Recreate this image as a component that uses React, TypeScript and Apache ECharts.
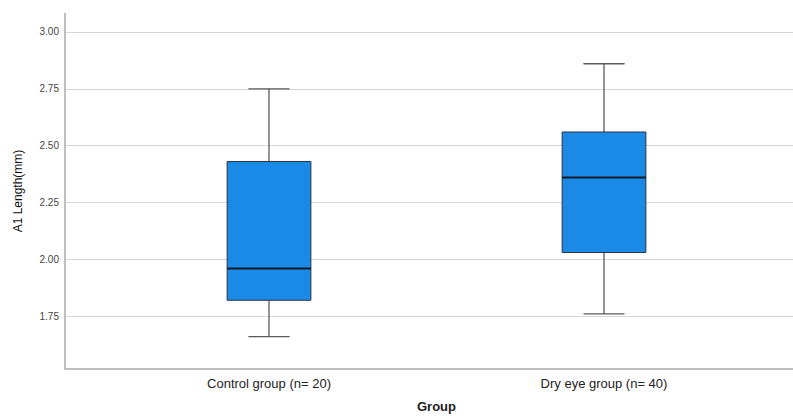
import React, { useEffect, useRef } from "react";
import * as echarts from "echarts";

const categories = ["Control group (n= 20)", "Dry eye group (n= 40)"];
const whiskerLow = [1.66, 1.76];
const q1 = [1.82, 2.03];
const median = [1.96, 2.36];
const q3 = [2.43, 2.56];
const whiskerHigh = [2.75, 2.86];
const yTicks = [1.75, 2.0, 2.25, 2.5, 2.75, 3.0];
const yMin = 1.52;
const yMax = 3.081;

export default function App() {
  const ref = useRef<HTMLDivElement>(null);
  useEffect(() => {
    if (!ref.current) return;
    const chart = echarts.init(ref.current, undefined, { renderer: "svg" });
    const data = categories.map((_, i) => [i, whiskerLow[i], q1[i], median[i], q3[i], whiskerHigh[i]]);
    const font = "'Liberation Sans', Arial, sans-serif";
    chart.setOption({
      animation: false,
      backgroundColor: "#ffffff",
      grid: [
        { left: 65, right: 0, top: 13.5, bottom: 47.5, containLabel: false, outerBoundsMode: "none" },
        { left: 101.5, right: 21.5, top: 13.5, bottom: 47.5, containLabel: false, outerBoundsMode: "none" },
      ],
      xAxis: [
        {
          gridIndex: 0,
          type: "value",
          min: 0,
          max: 1,
          axisLine: { show: true, lineStyle: { color: "#aaaaaa", width: 1.5 } },
          axisTick: { show: false },
          axisLabel: { show: false },
          splitLine: { show: false },
        },
        {
          gridIndex: 1,
          type: "category",
          data: categories,
          axisLine: { show: false },
          axisTick: { show: false },
          axisLabel: { color: "#222", fontSize: 13, fontFamily: font, margin: 8 },
          splitLine: { show: false },
          name: "Group",
          nameLocation: "middle",
          nameGap: 31,
          nameTextStyle: { color: "#222", fontSize: 13, fontWeight: "bold", fontFamily: font },
        },
      ],
      yAxis: [
        {
          gridIndex: 0,
          type: "value",
          min: yMin,
          max: yMax,
          name: "A1 Length(mm)",
          nameLocation: "middle",
          nameGap: 41,
          nameTextStyle: { color: "#111", fontSize: 12, fontFamily: font },
          axisLine: { show: true, lineStyle: { color: "#aaaaaa", width: 1.5 } },
          axisTick: { show: false, customValues: yTicks },
          axisLabel: {
            customValues: yTicks,
            color: "#444",
            fontSize: 10,
            fontFamily: font,
            margin: 6,
            formatter: (v: number) => v.toFixed(2),
          },
          splitLine: { show: true, lineStyle: { color: "#d6d6d6", width: 1.2 } },
        },
        {
          gridIndex: 1,
          type: "value",
          min: yMin,
          max: yMax,
          show: false,
          splitLine: { show: false },
        },
      ],
      series: [
        {
          type: "custom",
          xAxisIndex: 1,
          yAxisIndex: 1,
          data,
          encode: { x: 0, y: [1, 2, 3, 4, 5] },
          renderItem: (params: any, api: any) => {
            const idx = api.value(0);
            const pLo = api.coord([idx, api.value(1)]);
            const pQ1 = api.coord([idx, api.value(2)]);
            const pMed = api.coord([idx, api.value(3)]);
            const pQ3 = api.coord([idx, api.value(4)]);
            const pHi = api.coord([idx, api.value(5)]);
            const band = api.size([1, 0])[0];
            const bw = band * 0.25;
            const cw = band * 0.123;
            const cx = pMed[0];
            const wStyle = { stroke: "#5a5a5a", lineWidth: 1.3 };
            return {
              type: "group",
              children: [
                { type: "line", shape: { x1: cx, y1: pHi[1], x2: cx, y2: pQ3[1] }, style: wStyle },
                { type: "line", shape: { x1: cx, y1: pQ1[1], x2: cx, y2: pLo[1] }, style: wStyle },
                { type: "line", shape: { x1: cx - cw / 2, y1: pHi[1], x2: cx + cw / 2, y2: pHi[1] }, style: wStyle },
                { type: "line", shape: { x1: cx - cw / 2, y1: pLo[1], x2: cx + cw / 2, y2: pLo[1] }, style: wStyle },
                {
                  type: "rect",
                  shape: { x: cx - bw / 2, y: pQ3[1], width: bw, height: pQ1[1] - pQ3[1] },
                  style: { fill: "#1a8ae6", stroke: "#2b3440", lineWidth: 1 },
                },
                {
                  type: "line",
                  shape: { x1: cx - bw / 2, y1: pMed[1], x2: cx + bw / 2, y2: pMed[1] },
                  style: { stroke: "#111a22", lineWidth: 2 },
                },
              ],
            };
          },
        },
      ],
    });
    return () => chart.dispose();
  }, []);
  return <div ref={ref} style={{ width: 793, height: 416, position: "absolute", left: 0, top: 0 }} />;
}
